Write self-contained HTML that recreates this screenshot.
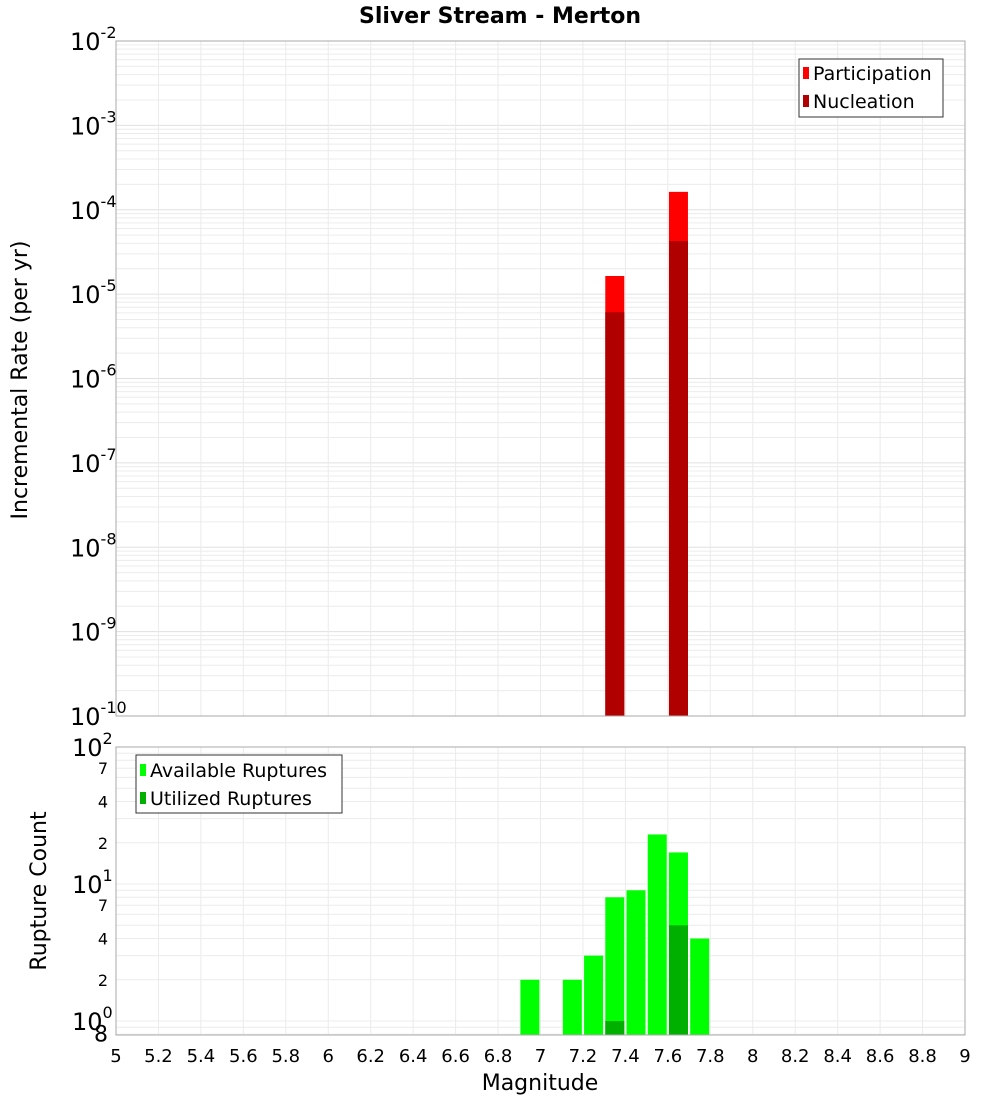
<!DOCTYPE html>
<html><head><meta charset="utf-8"><style>
body{margin:0;background:#fff;font-family:"DejaVu Sans","Liberation Sans",sans-serif;}
</style></head><body>
<svg id="chart" width="1000" height="1100" xmlns="http://www.w3.org/2000/svg" font-family="DejaVu Sans, Liberation Sans, sans-serif">
<text x="500" y="23" text-anchor="middle" font-size="22" font-weight="bold">Sliver Stream - Merton</text>
<g id="topg"></g><g id="botg"></g>
<text transform="translate(27,380) rotate(-90)" text-anchor="middle" font-size="22">Incremental Rate (per yr)</text>
<text transform="translate(46,891) rotate(-90)" text-anchor="middle" font-size="22">Rupture Count</text>
<text x="540" y="1090" text-anchor="middle" font-size="22">Magnitude</text>
</svg>
<script>
const topMags=[7.35,7.65];
const participation=[1.64e-5,1.63e-4];
const nucleation=[6.1e-6,4.26e-5];
const botMags=[6.95,7.15,7.25,7.35,7.45,7.55,7.65,7.75];
const available=[2,2,3,8,9,23,17,4];
const utilizedMags=[7.35,7.65];
const utilized=[1,5];
const xTicks=[5,5.2,5.4,5.6,5.8,6,6.2,6.4,6.6,6.8,7,7.2,7.4,7.6,7.8,8,8.2,8.4,8.6,8.8,9];
(function(){
const NS="http://www.w3.org/2000/svg";
const L=116,R=965;
const x=v=>L+(v-5)/4*(R-L);
const yT=v=>41+(-2-Math.log10(v))*(675/8);
const yB=v=>747+(2-Math.log10(v))*137;
function mk(p,t,a){const e=document.createElementNS(NS,t);for(const k in a)e.setAttribute(k,a[k]);p.appendChild(e);return e;}
const topG=document.getElementById('topg'),botG=document.getElementById('botg');
mk(topG,'rect',{x:L,y:41,width:R-L,height:675,fill:'#fff'});
for(let e=-10;e<-2;e++)for(let m=1;m<10;m++){const yy=yT(m*Math.pow(10,e));const g=mk(topG,'line',{x1:L,x2:R,y1:yy,y2:yy,stroke:m==1?'#e0e0e0':'#ececec','stroke-width':1});

}
xTicks.forEach(t=>{const g=mk(topG,'line',{x1:x(t),x2:x(t),y1:41,y2:716,stroke:'#ebebeb'});


 const g2=mk(botG,'line',{x1:x(t),x2:x(t),y1:747,y2:1035,stroke:'#ebebeb'});


 const tx=mk(botG,'text',{x:x(t),y:1062,'text-anchor':'middle','font-size':18});tx.textContent=String(t);

});
const bw=19;
topMags.forEach((m,i)=>{
 const b=mk(topG,'rect',{x:x(m)-bw/2,y:yT(participation[i]),width:bw,height:716-yT(participation[i]),fill:'#ff0000'});


 const n=mk(topG,'rect',{x:x(m)-bw/2,y:yT(nucleation[i]),width:bw,height:716-yT(nucleation[i]),fill:'#b00000'});

});
mk(topG,'rect',{x:L,y:41,width:R-L,height:675,fill:'none',stroke:'#aaa'});
for(let e=-10;e<=-2;e++){const yy=yT(Math.pow(10,e));const t=mk(topG,'text',{x:70,y:yy+9,'font-size':24});


 t.innerHTML='10<tspan dy="-12" font-size="16">'+e+'</tspan>';}
mk(topG,'rect',{x:799,y:59,width:144,height:58,fill:'#fff',stroke:'#333'});
[['Participation','#ff0000',73],['Nucleation','#b00000',101]].forEach(([s,c,yy])=>{const r=mk(topG,'rect',{x:803,y:yy-6,width:6,height:12,fill:c});


 const t=mk(topG,'text',{x:813,y:yy+7,'font-size':19});t.textContent=s;

});
for(let e=-1;e<2;e++)for(let m=1;m<10;m++){const v=m*Math.pow(10,e);if(v<0.79)continue;const yy=yB(v);const g=mk(botG,'line',{x1:L,x2:R,y1:yy,y2:yy,stroke:'#ececec'});

}
botMags.forEach((m,i)=>{const b=mk(botG,'rect',{x:x(m)-bw/2,y:yB(available[i]),width:bw,height:1035-yB(available[i]),fill:'#00ff00'});

});
utilizedMags.forEach((m,i)=>{const b=mk(botG,'rect',{x:x(m)-bw/2,y:yB(utilized[i]),width:bw,height:1035-yB(utilized[i]),fill:'#00b000'});

});
mk(botG,'rect',{x:L,y:747,width:R-L,height:288,fill:'none',stroke:'#aaa'});
[[100,'2'],[10,'1'],[1,'0']].forEach(([v,e])=>{const t=mk(botG,'text',{x:72,y:yB(v)+9,'font-size':24});t.innerHTML='10<tspan dy="-12" font-size="16">'+e+'</tspan>';

});
[70,40,20,7,4,2,0.8].forEach(v=>{const t=mk(botG,'text',{x:108,y:yB(v)+(v==0.8?7:6),'text-anchor':'end','font-size':v==0.8?22:16});t.textContent=String(v==0.8?8:String(v)[0]);

});
mk(botG,'rect',{x:136,y:755,width:206,height:58,fill:'#fff',stroke:'#333'});
[['Available Ruptures','#00ff00',770],['Utilized Ruptures','#00b000',798]].forEach(([s,c,yy])=>{const r=mk(botG,'rect',{x:140,y:yy-6,width:6,height:12,fill:c});


 const t=mk(botG,'text',{x:150,y:yy+7,'font-size':19});t.textContent=s;

});
})();
</script>
</body></html>
